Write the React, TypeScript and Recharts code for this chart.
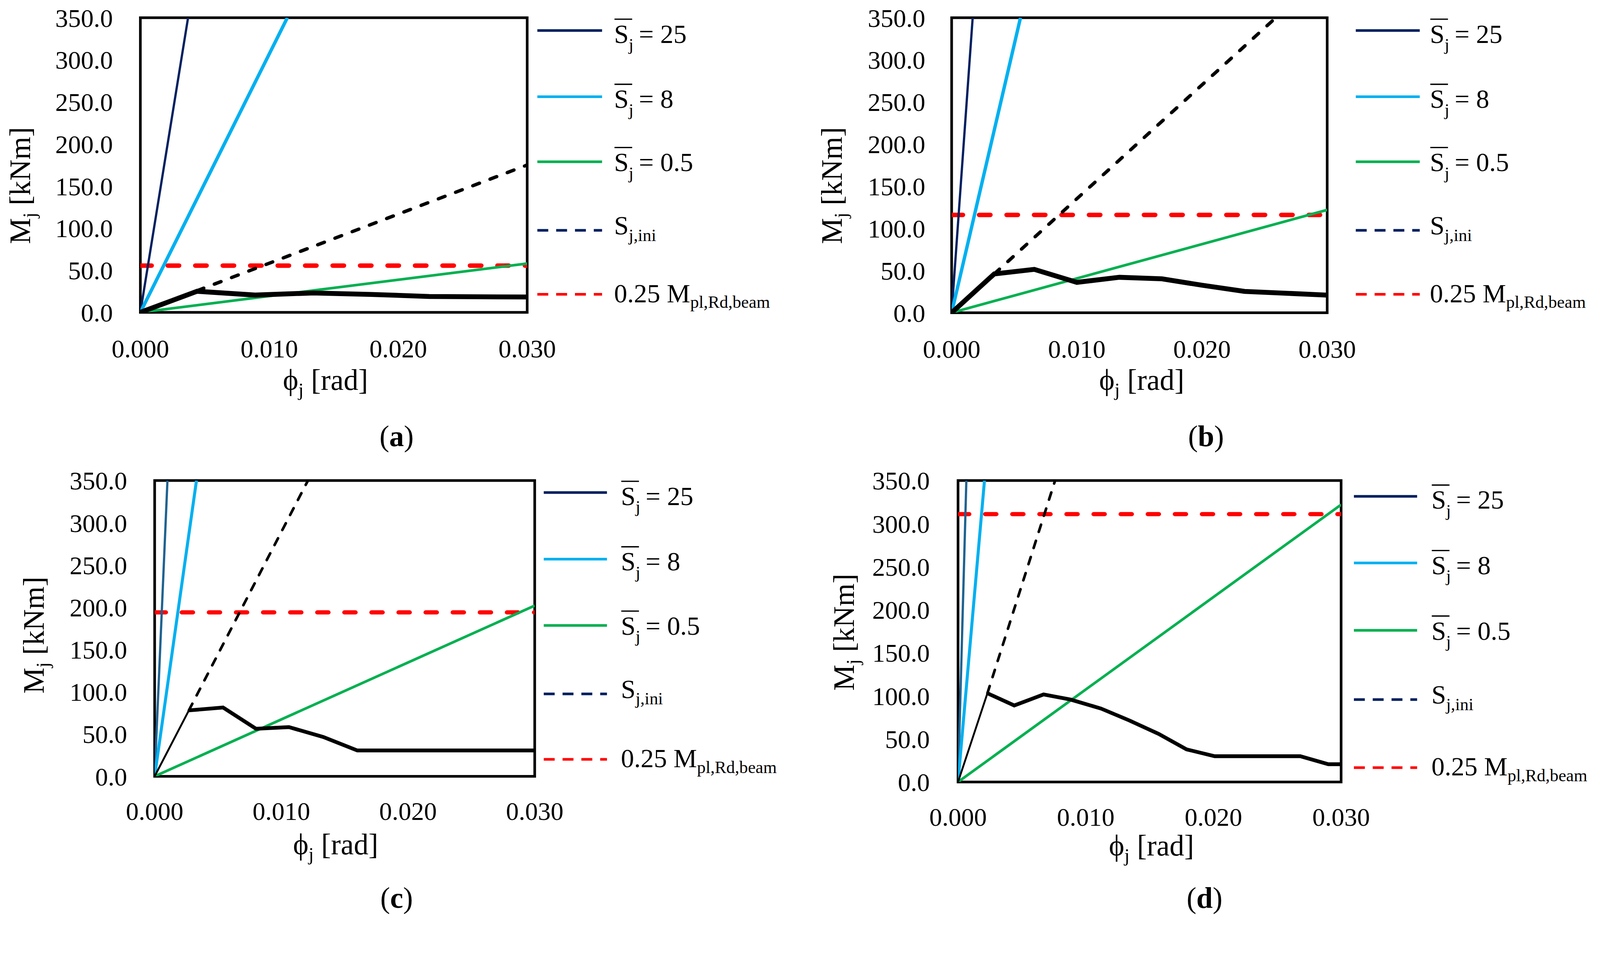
import React from 'react';
import { LineChart, Line, XAxis, YAxis, ReferenceArea, Legend } from 'recharts';

const FONT = "'Liberation Serif', 'Times New Roman', 'DejaVu Serif', serif";
const PAGE_W = 4252;
const PAGE_H = 2455;

// ---------- axes ----------
const xTicks = [0, 0.01, 0.02, 0.03];
const yTicks = [0, 50, 100, 150, 200, 250, 300, 350];
const xDomain = [0, 0.03];
const yDomain = [0, 350];

// ---------- legend texts ----------
const stiffValues = ['25', '8', '0.5'];
const iniLabelMain = 'S';
const iniLabelSub = 'j,ini';
const limitLabelMain = '0.25 M';
const limitLabelSub = 'pl,Rd,beam';
const panelLetters = ['a', 'b', 'c', 'd'];

// ---------- panel (a) ----------
const aS25 = [{ x: 0, y: 0 }, { x: 0.0037, y: 350 }];
const aS8 = [{ x: 0, y: 0 }, { x: 0.0114, y: 350 }];
const aS05 = [{ x: 0, y: 0 }, { x: 0.03, y: 58 }];
const aIniSolid = [{ x: 0, y: 0 }, { x: 0.0044, y: 25.7 }];
const aIniDash = [{ x: 0.0044, y: 25.7 }, { x: 0.03, y: 175 }];
const aLimit = [{ x: 0, y: 55.5 }, { x: 0.03, y: 55.5 }];
const aCurve = [
  { x: 0, y: 0 }, { x: 0.0044, y: 25 }, { x: 0.0089, y: 20.5 }, { x: 0.0134, y: 23 },
  { x: 0.0179, y: 21.3 }, { x: 0.0224, y: 18.8 }, { x: 0.03, y: 18.2 },
];

// ---------- panel (b) ----------
const bS25 = [{ x: 0, y: 0 }, { x: 0.00168, y: 350 }];
const bS8 = [{ x: 0, y: 0 }, { x: 0.0055, y: 350 }];
const bS05 = [{ x: 0, y: 0 }, { x: 0.03, y: 122 }];
const bIniSolid = [{ x: 0, y: 0 }, { x: 0.0034, y: 46 }];
const bIniDash = [{ x: 0.0034, y: 46 }, { x: 0.0259, y: 350 }];
const bLimit = [{ x: 0, y: 116 }, { x: 0.03, y: 116 }];
const bCurve = [
  { x: 0, y: 0 }, { x: 0.0034, y: 46 }, { x: 0.0066, y: 51.4 }, { x: 0.01, y: 36 },
  { x: 0.0134, y: 42 }, { x: 0.0168, y: 40.2 }, { x: 0.02, y: 32.6 }, { x: 0.0234, y: 25.3 },
  { x: 0.03, y: 20.9 },
];

// ---------- panel (c) ----------
const cS25 = [{ x: 0, y: 0 }, { x: 0.00101, y: 350 }];
const cS8 = [{ x: 0, y: 0 }, { x: 0.0033, y: 350 }];
const cS05 = [{ x: 0, y: 0 }, { x: 0.03, y: 202 }];
const cIniSolid = [{ x: 0, y: 0 }, { x: 0.0027, y: 78 }];
const cIniDash = [{ x: 0.0027, y: 78 }, { x: 0.0121, y: 350 }];
const cLimit = [{ x: 0, y: 194 }, { x: 0.03, y: 194 }];
const cCurve = [
  { x: 0.0027, y: 78 }, { x: 0.0054, y: 81.4 }, { x: 0.008, y: 56.3 }, { x: 0.0106, y: 58.2 },
  { x: 0.0133, y: 46.6 }, { x: 0.016, y: 30.6 }, { x: 0.03, y: 30.6 },
];

// ---------- panel (d) ----------
const dS25 = [{ x: 0, y: 0 }, { x: 0.00065, y: 350 }];
const dS8 = [{ x: 0, y: 0 }, { x: 0.00207, y: 350 }];
const dS05 = [{ x: 0, y: 0 }, { x: 0.03, y: 322 }];
const dIniSolid = [{ x: 0, y: 0 }, { x: 0.0023, y: 103 }];
const dIniDash = [{ x: 0.0023, y: 103 }, { x: 0.0076, y: 350 }];
const dLimit = [{ x: 0, y: 311 }, { x: 0.03, y: 311 }];
const dCurve = [
  { x: 0.0023, y: 103 }, { x: 0.0044, y: 88.8 }, { x: 0.0067, y: 101.6 }, { x: 0.0088, y: 95.7 },
  { x: 0.0112, y: 85.2 }, { x: 0.0134, y: 71.5 }, { x: 0.0157, y: 55.9 }, { x: 0.0179, y: 37.8 },
  { x: 0.0201, y: 29.9 }, { x: 0.0268, y: 29.9 }, { x: 0.029, y: 20.6 }, { x: 0.03, y: 20.6 },
];

// ---------- styles ----------
const NAVY = '#002060';
const LIGHTBLUE = '#00B0F0';
const GREEN = '#00B050';
const RED = '#FF0000';
const legendColors = [NAVY, LIGHTBLUE, GREEN];
const baseOffsets = [33, 30, 25, 11, 21];

const styleTop = {
  s25Color: NAVY, s25W: 6, s8W: 9, s05W: 7, iniW: 9, iniDash: '19 30', iniSolidW: 5,
  curveW: 13, redW: 12, redDash: '30 43',
};
const styleBottom = {
  s25Color: '#1f6391', s25W: 6, s8W: 8, s05W: 7, iniW: 7, iniDash: '20 25', iniSolidW: 5,
  curveW: 10, redW: 11, redDash: '30 42',
};

const panels = [
  {
    left: 0, top: 0, width: 2126, height: 1227,
    plot: { left: 373, top: 47, right: 1401, bottom: 830 },
    xTickMargin: 72, yTickMargin: 73,
    xTitle: { x: 865, y: 1036 }, yTitle: { x: 80, y: 493 }, tag: { x: 1054, y: 1186 },
    letter: panelLetters[0],
    legend: { x1: 1428, x2: 1600, tx: 1632, rows: [81, 257, 430, 612, 782] },
    style: styleTop,
    series: { s25: aS25, s8: aS8, s05: aS05, iniSolid: aIniSolid, iniDash: aIniDash, limit: aLimit, curve: aCurve },
  },
  {
    left: 2126, top: 0, width: 2126, height: 1227,
    plot: { left: 403, top: 47, right: 1401, bottom: 831 },
    xTickMargin: 72, yTickMargin: 70,
    xTitle: { x: 908, y: 1036 }, yTitle: { x: 111, y: 493 }, tag: { x: 1079, y: 1186 },
    letter: panelLetters[1],
    legend: { x1: 1477, x2: 1647, tx: 1674, rows: [81, 257, 430, 612, 782] },
    style: styleTop,
    series: { s25: bS25, s8: bS8, s05: bS05, iniSolid: bIniSolid, iniDash: bIniDash, limit: bLimit, curve: bCurve },
  },
  {
    left: 0, top: 1227, width: 2126, height: 1228,
    plot: { left: 411, top: 50, right: 1421, bottom: 836 },
    xTickMargin: 68, yTickMargin: 73,
    xTitle: { x: 892, y: 1043 }, yTitle: { x: 116, y: 461 }, tag: { x: 1054, y: 1186 },
    letter: panelLetters[2],
    legend: { x1: 1445, x2: 1613, tx: 1650, rows: [82, 259, 435, 617, 791] },
    style: styleBottom,
    series: { s25: cS25, s8: cS8, s05: cS05, iniSolid: cIniSolid, iniDash: cIniDash, limit: cLimit, curve: cCurve },
  },
  {
    left: 2126, top: 1227, width: 2126, height: 1228,
    plot: { left: 420, top: 50, right: 1438, bottom: 851 },
    xTickMargin: 68, yTickMargin: 75,
    xTitle: { x: 934, y: 1046 }, yTitle: { x: 143, y: 453 }, tag: { x: 1075, y: 1186 },
    letter: panelLetters[3],
    legend: { x1: 1472, x2: 1640, tx: 1678, rows: [92, 269, 448, 632, 813] },
    style: styleBottom,
    series: { s25: dS25, s8: dS8, s05: dS05, iniSolid: dIniSolid, iniDash: dIniDash, limit: dLimit, curve: dCurve },
  },
];

const tickStyle = { fontSize: 68, fill: '#000', fontFamily: FONT };

function XTitle({ cfg }: any) {
  return (
    <g>
      <text x={cfg.xTitle.x} y={cfg.xTitle.y} textAnchor="middle" fontSize={78} fontFamily={FONT} fill="#000">
        {'\u03D5'}
        <tspan fontSize={51} dy={17}>j</tspan>
        <tspan dy={-17}>{' [rad]'}</tspan>
      </text>
      <text x={cfg.tag.x} y={cfg.tag.y} textAnchor="middle" fontSize={78} fontFamily={FONT} fill="#000">
        (<tspan fontWeight="bold">{cfg.letter}</tspan>)
      </text>
    </g>
  );
}

function YTitle({ cfg }: any) {
  const { x, y } = cfg.yTitle;
  return (
    <text x={x} y={y} transform={`rotate(-90 ${x} ${y})`} textAnchor="middle" fontSize={78} fontFamily={FONT} fill="#000">
      M
      <tspan fontSize={51} dy={15}>j</tspan>
      <tspan dy={-15}>{' [kNm]'}</tspan>
    </text>
  );
}

function LegendSvg({ cfg }: any) {
  const { x1, x2, tx, rows } = cfg.legend;
  const base = rows.map((r: number, i: number) => r + baseOffsets[i]);
  return (
    <svg width={cfg.width} height={cfg.height} style={{ display: 'block', overflow: 'visible' }} fontFamily={FONT}>
      {stiffValues.map((val, i) => (
        <g key={i}>
          <line x1={x1} x2={x2} y1={rows[i]} y2={rows[i]} stroke={legendColors[i]} strokeWidth={7} />
          <line x1={tx + 1} x2={tx + 48} y1={base[i] - 63} y2={base[i] - 63} stroke="#000" strokeWidth={3.5} />
          <text x={tx} y={base[i]} fontSize={70} fill="#000">
            S
            <tspan fontSize={46} dy={20}>j</tspan>
            <tspan dy={-20}>{'\u2009= ' + val}</tspan>
          </text>
        </g>
      ))}
      <line x1={x1} x2={x2} y1={rows[3]} y2={rows[3]} stroke={NAVY} strokeWidth={7} strokeDasharray="29 21" />
      <text x={tx} y={base[3]} fontSize={70} fill="#000">
        {iniLabelMain}
        <tspan fontSize={46} dy={17}>{iniLabelSub}</tspan>
      </text>
      <line x1={x1} x2={x2} y1={rows[4]} y2={rows[4]} stroke={RED} strokeWidth={7} strokeDasharray="29 21" />
      <text x={tx} y={base[4]} fontSize={70} fill="#000">
        {limitLabelMain}
        <tspan fontSize={46} dy={15}>{limitLabelSub}</tspan>
      </text>
    </svg>
  );
}

function Panel({ cfg }: any) {
  const { width, height, plot, style: st, series } = cfg;
  const common = { dataKey: 'y', dot: false, activeDot: false, isAnimationActive: false, legendType: 'none' as const };
  return (
    <div style={{ position: 'absolute', left: cfg.left, top: cfg.top, width, height }}>
      <LineChart
        width={width}
        height={height}
        margin={{ top: plot.top, right: width - plot.right, bottom: 0, left: 0 }}
        style={{ fontFamily: FONT }}
      >
        <XAxis
          type="number"
          dataKey="x"
          domain={xDomain}
          ticks={xTicks}
          interval={0}
          allowDataOverflow
          tickFormatter={(v: number) => v.toFixed(3)}
          axisLine={false}
          tickLine={false}
          tickSize={0}
          tickMargin={cfg.xTickMargin}
          height={height - plot.bottom}
          tick={tickStyle}
          label={<XTitle cfg={cfg} />}
        />
        <YAxis
          type="number"
          domain={yDomain}
          ticks={yTicks}
          interval={0}
          allowDataOverflow
          tickFormatter={(v: number) => v.toFixed(1)}
          axisLine={false}
          tickLine={false}
          tickSize={0}
          tickMargin={cfg.yTickMargin}
          width={plot.left}
          tick={tickStyle}
          label={<YTitle cfg={cfg} />}
        />
        <ReferenceArea x1={0} x2={0.03} y1={0} y2={350} fill="none" fillOpacity={0} stroke="#000" strokeWidth={7} />
        <Line {...common} data={series.limit} stroke={RED} strokeWidth={st.redW} strokeDasharray={st.redDash} strokeLinecap="round" />
        <Line {...common} data={series.s25} stroke={st.s25Color} strokeWidth={st.s25W} />
        <Line {...common} data={series.s8} stroke={LIGHTBLUE} strokeWidth={st.s8W} />
        <Line {...common} data={series.s05} stroke={GREEN} strokeWidth={st.s05W} />
        <Line {...common} data={series.iniSolid} stroke="#000" strokeWidth={st.iniSolidW} />
        <Line {...common} data={series.iniDash} stroke="#000" strokeWidth={st.iniW} strokeDasharray={st.iniDash} strokeLinecap="round" />
        <Line {...common} data={series.curve} stroke="#000" strokeWidth={st.curveW} />
        <Legend
          layout="horizontal"
          verticalAlign="middle"
          align="center"
          wrapperStyle={{ left: 0, top: 0, width, height, pointerEvents: 'none' }}
          content={() => <LegendSvg cfg={cfg} />}
        />
      </LineChart>
    </div>
  );
}

export default function App() {
  const vw = typeof window !== 'undefined' ? window.innerWidth : PAGE_W;
  const vh = typeof window !== 'undefined' ? window.innerHeight : PAGE_H;
  const s = Math.min(1, vw / PAGE_W, vh / PAGE_H);
  return (
    <div style={{ position: 'fixed', left: 0, top: 0, width: '100vw', height: '100vh', overflow: 'hidden', background: '#fff' }}>
      <div
        style={{
          position: 'absolute', left: 0, top: 0, width: PAGE_W, height: PAGE_H,
          background: '#fff', transform: `scale(${s})`, transformOrigin: '0 0',
        }}
      >
        {panels.map((p, i) => (
          <Panel key={i} cfg={p} />
        ))}
      </div>
    </div>
  );
}
